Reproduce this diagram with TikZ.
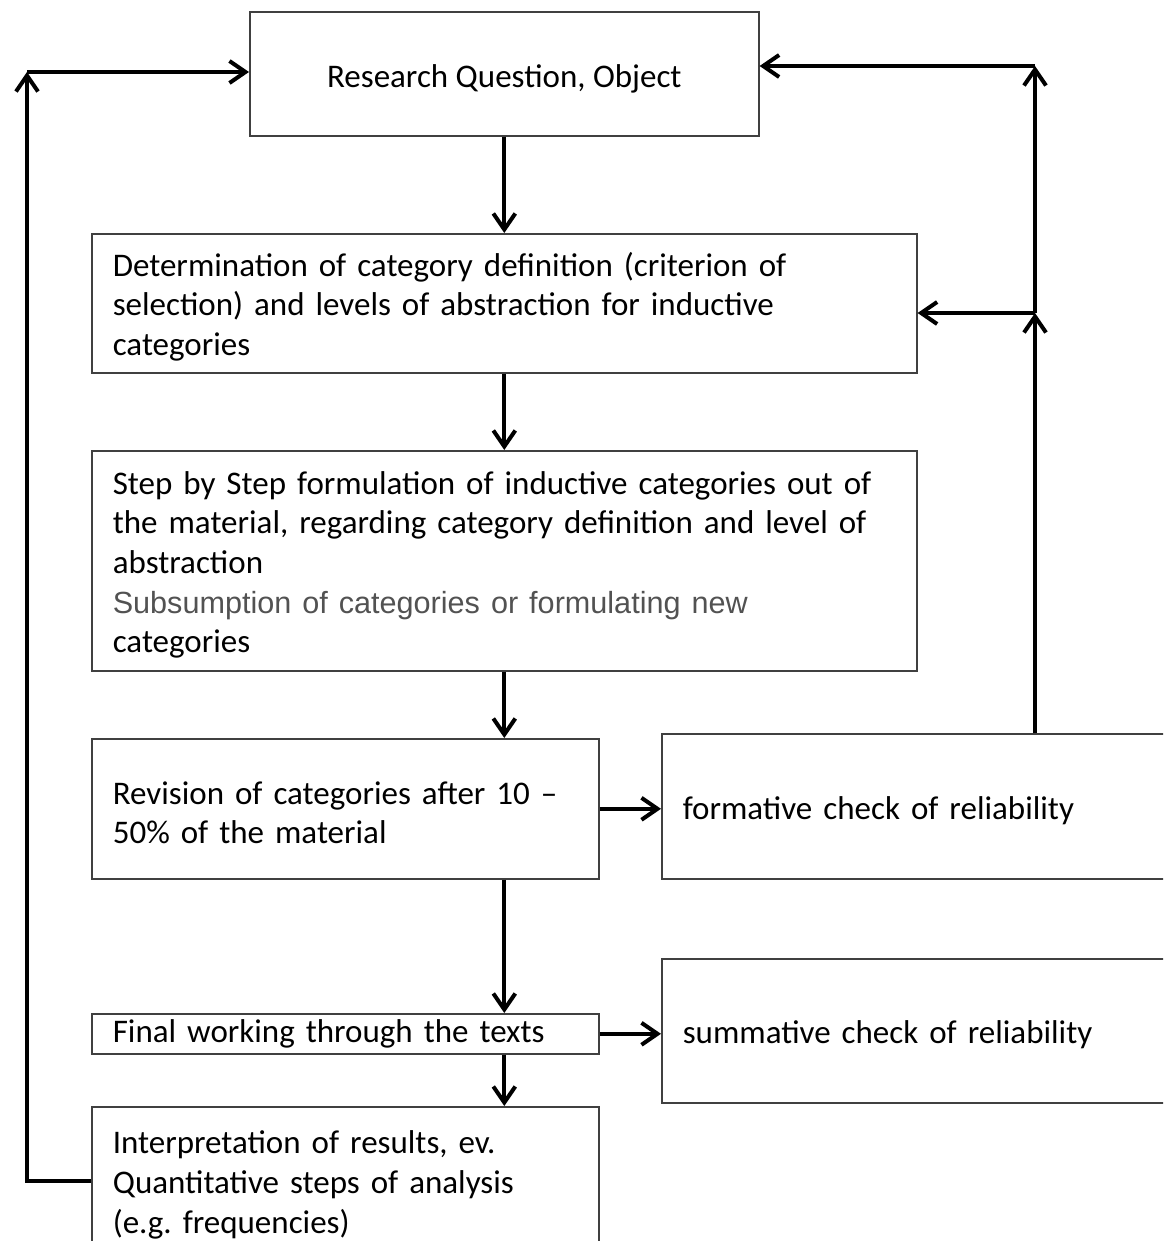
\documentclass[tikz,border=0pt]{standalone}
\usepackage{fontspec}
\setmainfont{Carlito}
\newfontfamily\arialfnt{Liberation Sans}
\usepackage{tikz}
\usetikzlibrary{arrows.meta,positioning,calc}
\frenchspacing

\tikzset{
    box/.style={draw=black!75, line width=0.8pt, anchor=north west, align=left,
        inner xsep=10.5pt, inner ysep=0pt,
        font=\fontsize{16.5pt}{19.8pt}\selectfont},
    flow/.style={-{Straight Barb[length=8pt,width=11pt]}, line width=2pt}
}
\newcommand{\strutup}{\rule{0pt}{15.5pt}}

\begin{document}
\begin{tikzpicture}[x=0.5pt, y=-0.5pt]
    % --- Frame (1 unit = 1 px of the reference) ---
    \clip (0,0) rectangle (1163,1241);

    % --- Boxes ---
    \node[box, align=center, minimum width=254.5pt, minimum height=62pt] (rq) at (249,11)
        {\rule{0pt}{17pt}Research Question, Object};
    \node[box, text width=391.5pt, minimum height=69.5pt] (det) at (91,233)
        {\strutup Determination of category definition (criterion of\\
         selection) and levels of abstraction for inductive\\
         categories};
    \node[box, text width=391.5pt, minimum height=110pt] (step) at (91,450)
        {\strutup Step by Step formulation of inductive categories out of\\
         the material, regarding category definition and level of\\
         abstraction\\
         {\arialfnt\fontsize{15.3pt}{19.8pt}\selectfont\color{black!68}Subsumption of categories or formulating new}\\
         categories};
    \node[box, text width=232.5pt, minimum height=70pt] (rev) at (91,738)
        {\strutup Revision of categories after 10 --\\50\% of the material};
    \node[box, text width=259pt, minimum height=72.5pt] (form) at (661,733)
        {\strutup formative check of reliability};
    \node[box, text width=232.5pt, minimum height=20pt] (fin) at (91,1013)
        {Final working through the texts};
    \node[box, text width=259pt, minimum height=72pt] (summ) at (661,958)
        {\strutup summative check of reliability};
    \node[box, text width=232.5pt, minimum height=74pt] (interp) at (91,1106)
        {\strutup Interpretation of results, ev.\\
         Quantitative steps of analysis\\
         (e.g. frequencies)};

    % --- Loop corners ---
    \coordinate (lc) at (27,72);
    \coordinate (rc) at (1035,66);
    \coordinate (rj) at (1035,313);

    % --- Main flow ---
    \draw[flow] (rq.south) -- (det.north);
    \draw[flow] (det.south) -- (step.north);
    \draw[flow] (step.south) -- (step.south |- rev.north);
    \draw[flow] (rev.south -| step.south) -- (fin.north -| step.south);
    \draw[flow] (fin.south -| step.south) -- (interp.north -| step.south);

    % --- Reliability checks ---
    \draw[flow] (rev.east) -- (rev.east -| form.west);
    \draw[flow] (fin.east) -- (fin.east -| summ.west);

    % --- Feedback loops ---
    \draw[flow] (interp.west) -| (lc);
    \draw[flow] (lc) -- (lc -| rq.west);
    \draw[flow] (form.north -| rj) -- (rj);
    \draw[flow] (rj) -- (rc);
    \draw[flow] (rc) -- (rc -| rq.east);
    \draw[flow] (rj) -- (rj -| det.east);
\end{tikzpicture}
\end{document}
